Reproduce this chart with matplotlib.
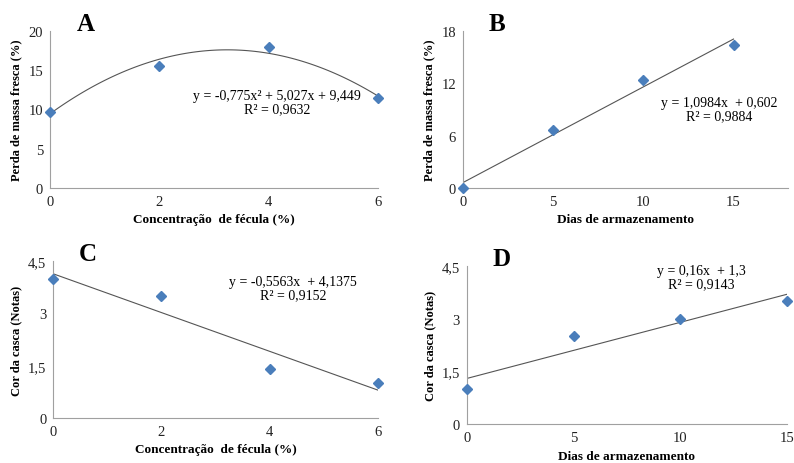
import numpy as np
import matplotlib.pyplot as plt

plt.rcParams['font.family'] = ['Liberation Serif', 'DejaVu Serif']

# painel A - perda de massa x concentracao
conc = [0, 2, 4, 6]
perdaA = [9.7, 15.6, 18.0, 11.4]
# painel B - perda de massa x dias
dias = [0, 5, 10, 15]
perdaB = [0.0, 6.6, 12.4, 16.4]
# painel C - cor x concentracao
corC = [4.0, 3.5, 1.4, 1.0]
# painel D - cor x dias
corD = [1.0, 2.5, 3.0, 3.5]

azul = '#4a7ebb'
cinza = '#555555'

fig = plt.figure(figsize=(7.94, 4.64), dpi=100)

def estilo(ax, xt, yt, xl, yl, xlab, ylab, letra, ytl=None):
    for s in ['top', 'right']:
        ax.spines[s].set_visible(False)
    for s in ['left', 'bottom']:
        ax.spines[s].set_color('#a0a0a0')
        ax.spines[s].set_linewidth(0.8)
    ax.set_xticks(xt)
    ax.set_yticks(yt)
    if ytl is not None:
        ax.set_yticklabels(ytl)
    ax.set_xlim(xl)
    ax.set_ylim(yl)
    ax.tick_params(length=0, labelsize=10.5, pad=5, colors='#222222')
    ax.set_xlabel(xlab, fontsize=9.5, fontweight='bold', labelpad=4)
    ax.set_ylabel(ylab, fontsize=9, fontweight='bold', labelpad=4)
    ax.text(0.08, 0.975, letra, transform=ax.transAxes, fontsize=18,
            fontweight='bold', ha='left', va='bottom')

def pontos(ax, x, y):
    ax.plot(x, y, 'D', color=azul, ms=5.5, clip_on=False, zorder=5)

# A
axA = fig.add_axes([0.063, 0.593, 0.413, 0.338])
xx = np.linspace(0, 6, 100)
axA.plot(xx, -0.775 * xx**2 + 5.027 * xx + 9.449, color=cinza, lw=0.8)
pontos(axA, conc, perdaA)
estilo(axA, [0, 2, 4, 6], [0, 5, 10, 15, 20], (0, 6), (0, 20),
       'Concentração  de fécula (%)', 'Perda de massa fresca (%)', 'A')
axA.text(4.15, 10.9, 'y = -0,775x² + 5,027x + 9,449\nR² = 0,9632', ha='center',
         va='center', fontsize=10, linespacing=1.0)

# B
axB = fig.add_axes([0.583, 0.593, 0.409, 0.338])
xb = np.array([0, 15])
axB.plot(xb, 1.0984 * xb + 0.602, color=cinza, lw=0.8)
pontos(axB, dias, perdaB)
estilo(axB, [0, 5, 10, 15], [0, 6, 12, 18], (0, 18), (0, 18),
       'Dias de armazenamento', 'Perda de massa fresca (%)', 'B')
axB.text(14.2, 9.0, 'y = 1,0984x  + 0,602\nR² = 0,9884', ha='center',
         va='center', fontsize=10, linespacing=1.0)

# C
axC = fig.add_axes([0.067, 0.097, 0.409, 0.338])
xc = np.array([0, 6])
axC.plot(xc, -0.5563 * xc + 4.1375, color=cinza, lw=0.8)
pontos(axC, conc, corC)
estilo(axC, [0, 2, 4, 6], [0, 1.5, 3, 4.5], (0, 6), (0, 4.5),
       'Concentração  de fécula (%)', 'Cor da casca (Notas)', 'C',
       ['0', '1,5', '3', '4,5'])
axC.text(4.43, 3.72, 'y = -0,5563x  + 4,1375\nR² = 0,9152', ha='center',
         va='center', fontsize=10, linespacing=1.0)

# D
axD = fig.add_axes([0.588, 0.084, 0.403, 0.340])
axD.plot(xb, 0.16 * xb + 1.3, color=cinza, lw=0.8)
pontos(axD, dias, corD)
estilo(axD, [0, 5, 10, 15], [0, 1.5, 3, 4.5], (0, 15), (0, 4.5),
       'Dias de armazenamento', 'Cor da casca (Notas)', 'D',
       ['0', '1,5', '3', '4,5'])
axD.text(11.0, 4.2, 'y = 0,16x  + 1,3\nR² = 0,9143', ha='center',
         va='center', fontsize=10, linespacing=1.0)

fig.savefig('out.png', dpi=100)
